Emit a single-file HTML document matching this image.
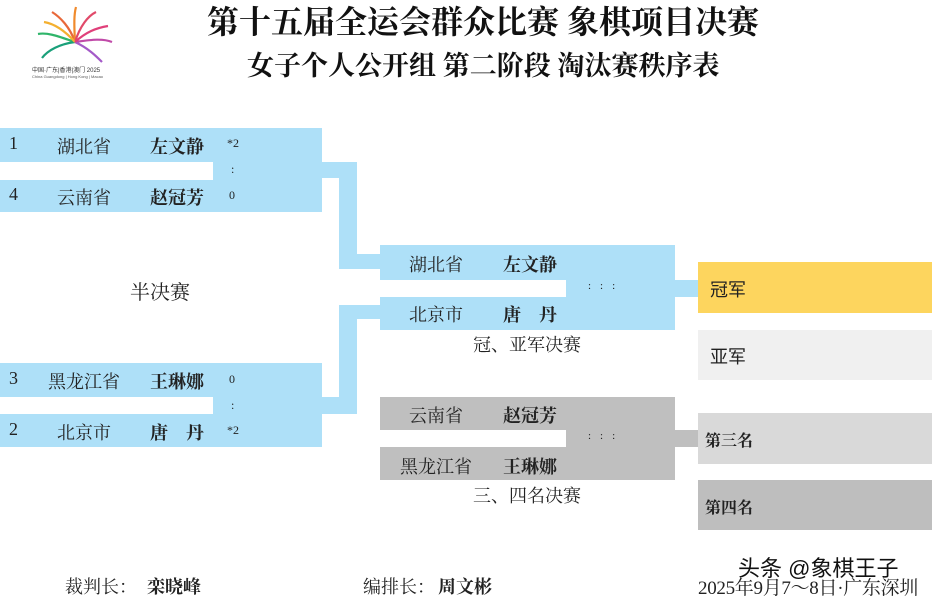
<!DOCTYPE html>
<html><head><meta charset="utf-8"><style>
body{margin:0;width:932px;height:598px;background:#fff;position:relative;overflow:hidden;font-family:"Liberation Serif","Noto Serif CJK SC",serif;color:#222}
.a{position:absolute}
.b{background:#aee0f8}
.g{background:#bfbfbf}
.t{position:absolute;font-size:18px;white-space:nowrap}
.k{font-weight:bold}
</style></head><body>
<svg class="a" style="left:30px;top:2px" width="90" height="78" viewBox="0 0 90 78">
<g stroke-width="2.2" fill="none">
<path d="M45 40 C40 25 30 15 22 10" stroke="#e8683a"/><path d="M45 40 C44 22 44 12 46 5" stroke="#f08a2c"/><path d="M45 40 C50 24 58 14 66 10" stroke="#e14a6a"/>
<path d="M45 40 C30 35 18 30 8 32" stroke="#2fb56a"/><path d="M45 40 C30 42 18 48 12 56" stroke="#1aa07a"/>
<path d="M45 40 C60 38 72 36 82 40" stroke="#c04aa8"/><path d="M45 40 C58 46 66 54 72 60" stroke="#a45ac8"/>
<path d="M45 40 C36 30 26 22 14 20" stroke="#f4b030"/><path d="M45 40 C56 30 66 26 78 24" stroke="#e0407a"/>
</g>
<text x="2" y="70" font-size="6" fill="#333" font-family="Liberation Sans,Noto Sans CJK SC,sans-serif">中国·广东|香港|澳门 2025</text>
<text x="2" y="76" font-size="4" fill="#555" font-family="Liberation Sans,sans-serif">China Guangdong | Hong Kong | Macao</text>
</svg>
<div class="t" style="left:207px;top:-3px;font-size:32px;color:#111;font-weight:bold">第十五届全运会群众比赛 象棋项目决赛</div>
<div class="t" style="left:247px;top:44px;font-size:27px;color:#111;font-weight:bold">女子个人公开组 第二阶段 淘汰赛秩序表</div>

<div class="a b" style="left:0;top:128px;width:322px;height:84px"></div>
<div class="a" style="left:0;top:162px;width:213px;height:18px;background:#fff"></div>
<div class="a b" style="left:322px;top:162px;width:35px;height:16px"></div>
<div class="a b" style="left:339px;top:162px;width:18px;height:107px"></div>
<div class="a b" style="left:339px;top:254px;width:41px;height:15px"></div>
<div class="t" style="left:9px;top:133px">1</div><div class="t" style="left:57px;top:133px">湖北省</div><div class="t k" style="left:150px;top:133px">左文静</div><div class="t" style="left:227px;top:136px;font-size:12px">*2</div>
<div class="t" style="left:231px;top:162px;font-size:12px">:</div>
<div class="t" style="left:9px;top:184px">4</div><div class="t" style="left:57px;top:184px">云南省</div><div class="t k" style="left:150px;top:184px">赵冠芳</div><div class="t" style="left:229px;top:188px;font-size:12px">0</div>
<div class="t" style="left:130px;top:276px;font-size:20px">半决赛</div>

<div class="a b" style="left:0;top:363px;width:322px;height:84px"></div>
<div class="a" style="left:0;top:397px;width:213px;height:17px;background:#fff"></div>
<div class="a b" style="left:322px;top:397px;width:35px;height:17px"></div>
<div class="a b" style="left:339px;top:305px;width:18px;height:109px"></div>
<div class="a b" style="left:339px;top:305px;width:41px;height:14px"></div>
<div class="t" style="left:9px;top:368px">3</div><div class="t" style="left:48px;top:368px">黑龙江省</div><div class="t k" style="left:150px;top:368px">王琳娜</div><div class="t" style="left:229px;top:372px;font-size:12px">0</div>
<div class="t" style="left:231px;top:398px;font-size:12px">:</div>
<div class="t" style="left:9px;top:419px">2</div><div class="t" style="left:57px;top:419px">北京市</div><div class="t k" style="left:150px;top:419px">唐　丹</div><div class="t" style="left:227px;top:423px;font-size:12px">*2</div>

<div class="a b" style="left:380px;top:245px;width:295px;height:85px"></div>
<div class="a" style="left:380px;top:280px;width:186px;height:17px;background:#fff"></div>
<div class="a b" style="left:675px;top:280px;width:23px;height:17px"></div>
<div class="t" style="left:409px;top:251px">湖北省</div><div class="t k" style="left:503px;top:251px">左文静</div>
<div class="t" style="left:588px;top:280px;font-size:11px;letter-spacing:9px">:::</div>
<div class="t" style="left:409px;top:301px">北京市</div><div class="t k" style="left:503px;top:301px">唐　丹</div>
<div class="t" style="left:473px;top:331px">冠、亚军决赛</div>
<div class="a" style="left:698px;top:262px;width:234px;height:51px;background:#fdd55e"></div>
<div class="t" style="left:710px;top:276px;font-family:'Liberation Sans','Noto Sans CJK SC',sans-serif">冠军</div>
<div class="a" style="left:698px;top:330px;width:234px;height:50px;background:#f0f0f0"></div>
<div class="t" style="left:710px;top:343px;font-family:'Liberation Sans','Noto Sans CJK SC',sans-serif">亚军</div>

<div class="a g" style="left:380px;top:397px;width:295px;height:83px"></div>
<div class="a" style="left:380px;top:430px;width:186px;height:17px;background:#fff"></div>
<div class="a g" style="left:675px;top:430px;width:23px;height:17px"></div>
<div class="t" style="left:409px;top:402px">云南省</div><div class="t k" style="left:503px;top:402px">赵冠芳</div>
<div class="t" style="left:588px;top:430px;font-size:11px;letter-spacing:9px">:::</div>
<div class="t" style="left:400px;top:453px">黑龙江省</div><div class="t k" style="left:503px;top:453px">王琳娜</div>
<div class="t" style="left:473px;top:482px">三、四名决赛</div>
<div class="a" style="left:698px;top:413px;width:234px;height:51px;background:#d9d9d9"></div>
<div class="t k" style="left:705px;top:428px;font-size:16px">第三名</div>
<div class="a" style="left:698px;top:480px;width:234px;height:50px;background:#bebebe"></div>
<div class="t k" style="left:705px;top:495px;font-size:16px">第四名</div>

<div class="t" style="left:65px;top:573px">裁判长：</div><div class="t k" style="left:147px;top:573px">栾晓峰</div>
<div class="t" style="left:363px;top:573px">编排长：</div><div class="t k" style="left:438px;top:573px">周文彬</div>
<div class="t" style="left:698px;top:573px;font-size:19px;letter-spacing:-0.3px">2025年9月7～8日·广东深圳</div>
<div class="t" style="left:738px;top:551px;font-size:22px;color:#111;font-family:'Liberation Sans','Noto Sans CJK SC',sans-serif">头条 @象棋王子</div>
</body></html>
